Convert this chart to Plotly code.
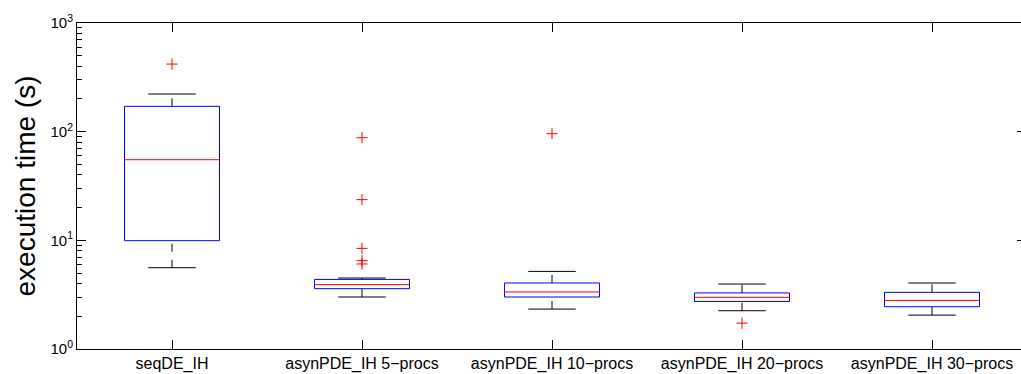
import plotly.graph_objects as go

categories = ["seqDE_IH", "asynPDE_IH 5\u2212procs", "asynPDE_IH 10\u2212procs",
              "asynPDE_IH 20\u2212procs", "asynPDE_IH 30\u2212procs"]
lower_whisker = [5.6, 3.01, 2.33, 2.25, 2.05]
q1 = [9.93, 3.59, 3.01, 2.74, 2.45]
median = [55.2, 3.91, 3.35, 2.99, 2.80]
q3 = [171, 4.37, 4.05, 3.28, 3.32]
upper_whisker = [222, 4.5, 5.18, 3.96, 4.05]
outliers = [[419], [88, 23.7, 8.43, 6.5, 6.06], [95.8], [1.73], []]

ytick_vals = [1, 10, 100, 1000]
ytick_text = ["10<sup>0</sup>", "10<sup>1</sup>", "10<sup>2</sup>", "10<sup>3</sup>"]
minor_vals = [m * d for d in (1, 10, 100) for m in range(2, 10)]

HW = 0.25   # box half width
CW = 0.125  # cap half width

pos = list(range(1, len(categories) + 1))

box_x, box_y = [], []
med_x, med_y = [], []
wh_x, wh_y = [], []
cap_x, cap_y = [], []
out_x, out_y = [], []
for i, p in enumerate(pos):
    box_x += [p - HW, p + HW, p + HW, p - HW, p - HW, None]
    box_y += [q1[i], q1[i], q3[i], q3[i], q1[i], None]
    med_x += [p - HW, p + HW, None]
    med_y += [median[i], median[i], None]
    wh_x += [p, p, None, p, p, None]
    wh_y += [lower_whisker[i], q1[i], None, q3[i], upper_whisker[i], None]
    cap_x += [p - CW, p + CW, None, p - CW, p + CW, None]
    cap_y += [lower_whisker[i], lower_whisker[i], None, upper_whisker[i], upper_whisker[i], None]
    for v in outliers[i]:
        out_x.append(p)
        out_y.append(v)

fig = go.Figure()
fig.add_trace(go.Scatter(x=wh_x, y=wh_y, mode="lines",
                         line=dict(color="black", width=1, dash="8px,8px"), hoverinfo="skip"))
fig.add_trace(go.Scatter(x=cap_x, y=cap_y, mode="lines", yaxis="y2",
                         line=dict(color="black", width=1), hoverinfo="skip"))
fig.add_trace(go.Scatter(x=box_x, y=box_y, mode="lines",
                         line=dict(color="#0000ff", width=1), hoverinfo="skip"))
fig.add_trace(go.Scatter(x=med_x, y=med_y, mode="lines",
                         line=dict(color="#ff0000", width=1), hoverinfo="skip"))
fig.add_trace(go.Scatter(x=out_x, y=out_y, mode="markers",
                         marker=dict(symbol="cross-thin", size=8,
                                     line=dict(color="#ff0000", width=1), color="#ff0000")))

L, R, T, B = 77, 0, 23, 25
W, H = 1021, 374
unit_px = 190.0
xr = [0.5, 0.5 + (W - L - R) / unit_px]

fig.update_layout(
    width=W, height=H,
    margin=dict(l=L, r=R, t=T, b=B),
    paper_bgcolor="white", plot_bgcolor="white",
    showlegend=False,
    font=dict(family="Liberation Sans, Arial, sans-serif", color="black"),
    xaxis=dict(range=xr, tickmode="array", tickvals=pos, ticktext=categories,
               showline=True, linecolor="black", linewidth=1, mirror="ticks",
               ticks="inside", ticklen=9, tickcolor="black", tickwidth=1,
               showgrid=False, zeroline=False, tickfont=dict(size=16)),
    yaxis=dict(type="log", range=[0, 3], tickmode="array",
               tickvals=ytick_vals, ticktext=ytick_text,
               showline=True, linecolor="black", linewidth=1, mirror=False,
               ticks="inside", ticklen=9, tickcolor="black", tickwidth=1,
               minor=dict(tickmode="array", tickvals=minor_vals, ticks="inside",
                          ticklen=5, tickcolor="black", tickwidth=1, showgrid=False),
               showgrid=False, zeroline=False, tickfont=dict(size=15),
               title=dict(text="execution time (s)", font=dict(size=28), standoff=6)),
    yaxis2=dict(type="log", range=[0, 3], overlaying="y", side="right",
                tickmode="array", tickvals=ytick_vals, showticklabels=False,
                showline=False, ticks="inside", ticklen=4, tickcolor="black",
                tickwidth=1, showgrid=False, zeroline=False),
)

fig.write_html("out.html")
